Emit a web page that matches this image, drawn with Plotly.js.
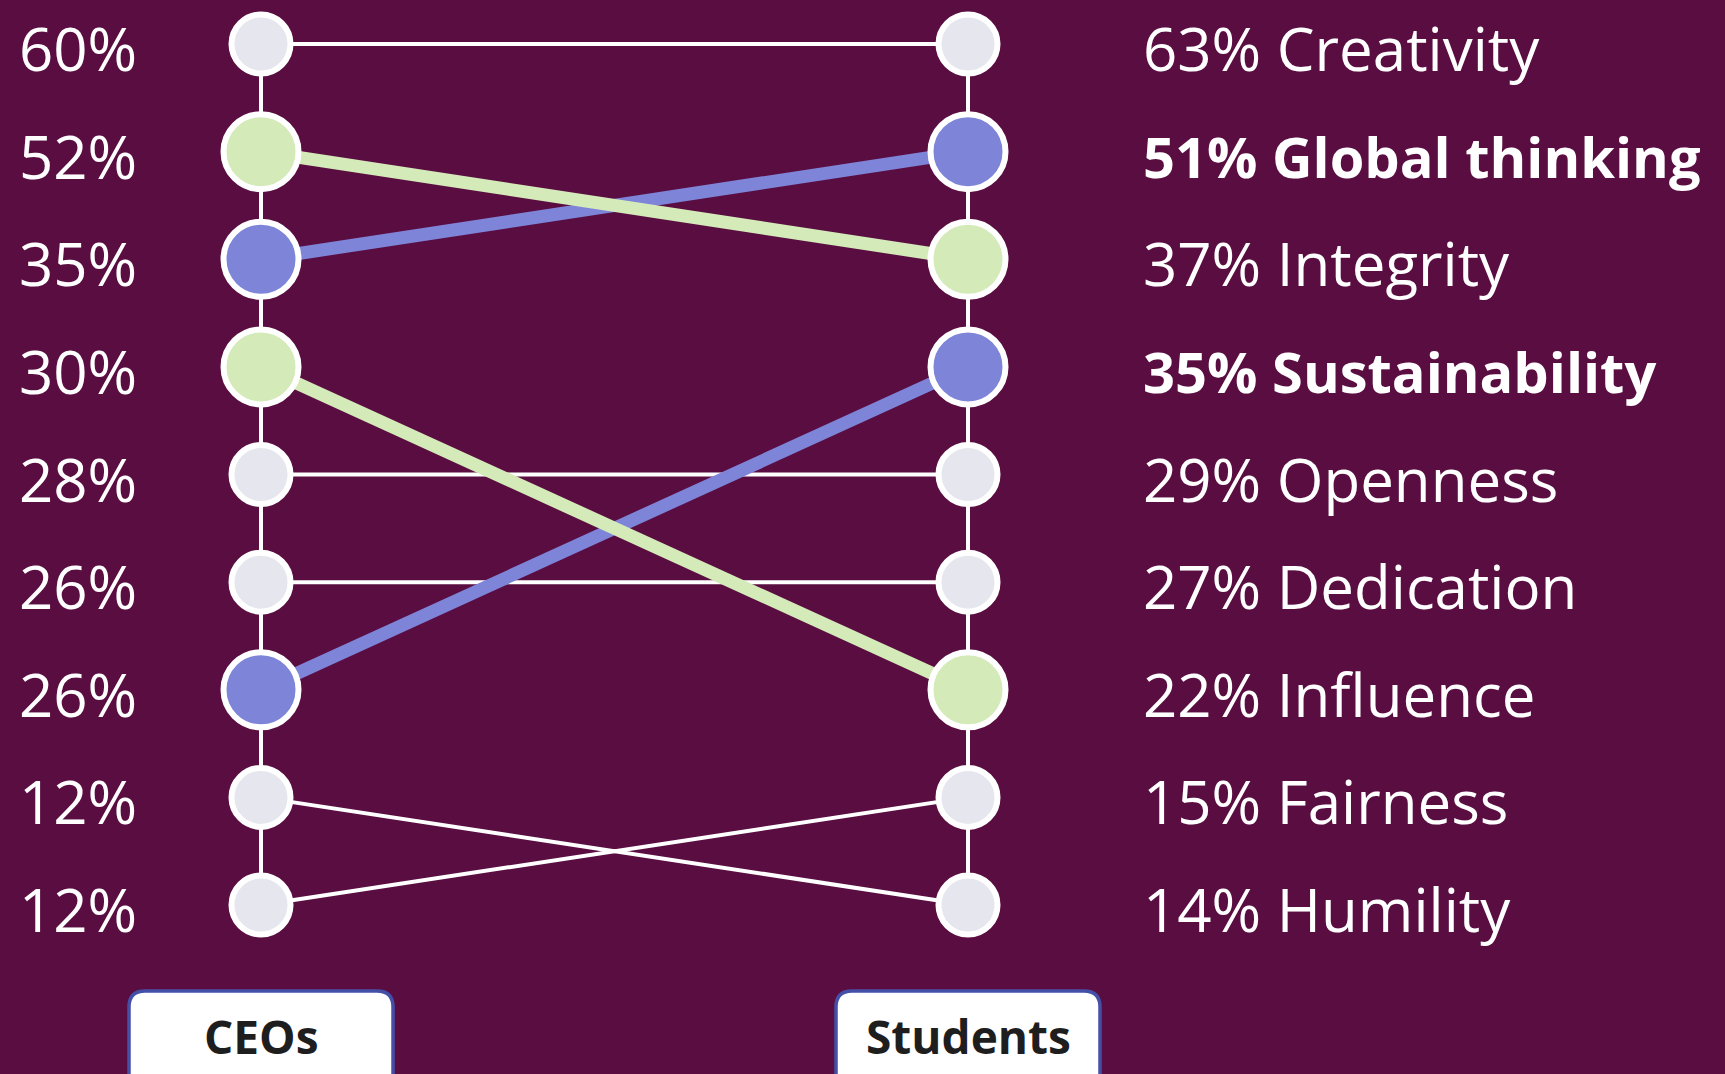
<!DOCTYPE html>
<html>
<head>
<meta charset="utf-8">
<script src="https://cdn.plot.ly/plotly-3.0.1.min.js"></script>
<style>
  html, body { margin: 0; padding: 0; background: #5A0D41; }
  #chart { width: 1725px; height: 1074px; }
</style>
</head>
<body>
<div id="chart"></div>
<script>
// ---------- DATA ----------
const traits      = ["Creativity", "Global thinking", "Integrity", "Sustainability", "Openness", "Dedication", "Influence", "Fairness", "Humility"];
const ceoPct      = [60, 35, 52, 26, 28, 26, 30, 12, 12];
const studentPct  = [63, 51, 37, 35, 29, 27, 22, 15, 14];
const ceoRank     = [1, 3, 2, 7, 5, 6, 4, 9, 8];
const studentRank = [1, 2, 3, 4, 5, 6, 7, 8, 9];
const group       = ["none", "blue", "green", "blue", "none", "none", "green", "none", "none"];
const emphasized  = ["Global thinking", "Sustainability"];
const columns     = ["CEOs", "Students"];

// ---------- STYLE ----------
const W = 1725, H = 1074;
const BG = "#5A0D41";
const colorOf = { none: "#E6E6EE", blue: "#7E84D8", green: "#D4EAB8" };
const lineColorOf = { none: "#FFFFFF", blue: "#7E84D8", green: "#D4EAB8" };
const lineWidthOf = { none: 4, blue: 13, green: 13 };
const sizeOf = { none: 59, blue: 75, green: 75 };
const FONT = "'Open Sans', 'Noto Sans', sans-serif";

const leftPx = 261, rightPx = 968, topPx = 44, botPx = 905;
const n = traits.length;
const pxPerX = rightPx - leftPx;
const pxPerY = (botPx - topPx) / (n - 1);
const xRange = [-leftPx / pxPerX, (W - leftPx) / pxPerX];
const yRange = [n + (H - botPx) / pxPerY, 1 - topPx / pxPerY];

const traces = [];
// column spines
[0, 1].forEach(cx => {
  traces.push({
    x: [cx, cx], y: [1, n], mode: "lines", hoverinfo: "skip", showlegend: false,
    line: { color: "#FFFFFF", width: 4 }
  });
});
// connectors: plain first, highlighted on top
const order = traits.map((_, i) => i).sort((a, b) => (group[a] === "none" ? 0 : 1) - (group[b] === "none" ? 0 : 1));
order.forEach(i => {
  traces.push({
    x: [0, 1], y: [ceoRank[i], studentRank[i]], mode: "lines", hoverinfo: "skip", showlegend: false,
    line: { color: lineColorOf[group[i]], width: lineWidthOf[group[i]] }
  });
});
// nodes
[[0, ceoRank], [1, studentRank]].forEach(([cx, ranks]) => {
  traces.push({
    x: traits.map(() => cx), y: ranks, mode: "markers", hoverinfo: "skip", showlegend: false,
    marker: {
      size: group.map(g => sizeOf[g]),
      color: group.map(g => colorOf[g]),
      opacity: 1,
      line: { color: "#FFFFFF", width: 6 }
    }
  });
});

const annotations = [];
traits.forEach((t, i) => {
  annotations.push({
    xref: "paper", yref: "y", x: 17 / W, y: ceoRank[i], xanchor: "left", yanchor: "middle",
    yshift: -4, showarrow: false, text: ceoPct[i] + "%",
    font: { family: FONT, size: 60, color: "#FFFFFF" }
  });
  const bold = emphasized.includes(t);
  annotations.push({
    xref: "paper", yref: "y", x: 1141 / W, y: studentRank[i], xanchor: "left", yanchor: "middle",
    yshift: -4, showarrow: false,
    text: bold ? "<b>" + studentPct[i] + "% " + t + "</b>" : studentPct[i] + "% " + t,
    font: { family: FONT, size: bold ? 56 : 60, color: "#FFFFFF" }
  });
});

// column caption boxes
function roundRect(x0, y0, x1, y1, r) {
  const X = p => (p / W).toFixed(5), Y = p => (1 - p / H).toFixed(5);
  return `M${X(x0 + r)},${Y(y0)} L${X(x1 - r)},${Y(y0)} Q${X(x1)},${Y(y0)} ${X(x1)},${Y(y0 + r)} ` +
         `L${X(x1)},${Y(y1 - r)} Q${X(x1)},${Y(y1)} ${X(x1 - r)},${Y(y1)} L${X(x0 + r)},${Y(y1)} ` +
         `Q${X(x0)},${Y(y1)} ${X(x0)},${Y(y1 - r)} L${X(x0)},${Y(y0 + r)} Q${X(x0)},${Y(y0)} ${X(x0 + r)},${Y(y0)} Z`;
}
const shapes = [];
[leftPx, rightPx].forEach((cx, k) => {
  shapes.push({
    type: "path", xref: "paper", yref: "paper", layer: "above",
    path: roundRect(cx - 132, 991, cx + 132, 1110, 16),
    fillcolor: "#FFFFFF", line: { color: "#4450A8", width: 3.5 }
  });
  annotations.push({
    xref: "x", yref: "paper", x: k, y: 1 - 1036 / H, xanchor: "center", yanchor: "middle",
    showarrow: false, text: "<b>" + columns[k] + "</b>",
    font: { family: FONT, size: 46, color: "#1E1E1E" }
  });
});

const layout = {
  width: W, height: H,
  margin: { l: 0, r: 0, t: 0, b: 0 },
  paper_bgcolor: BG, plot_bgcolor: BG,
  xaxis: { range: xRange, visible: false, fixedrange: true },
  yaxis: { range: yRange, visible: false, fixedrange: true },
  showlegend: false,
  annotations, shapes
};

Plotly.newPlot("chart", traces, layout, { displayModeBar: false, staticPlot: true });
</script>
</body>
</html>
